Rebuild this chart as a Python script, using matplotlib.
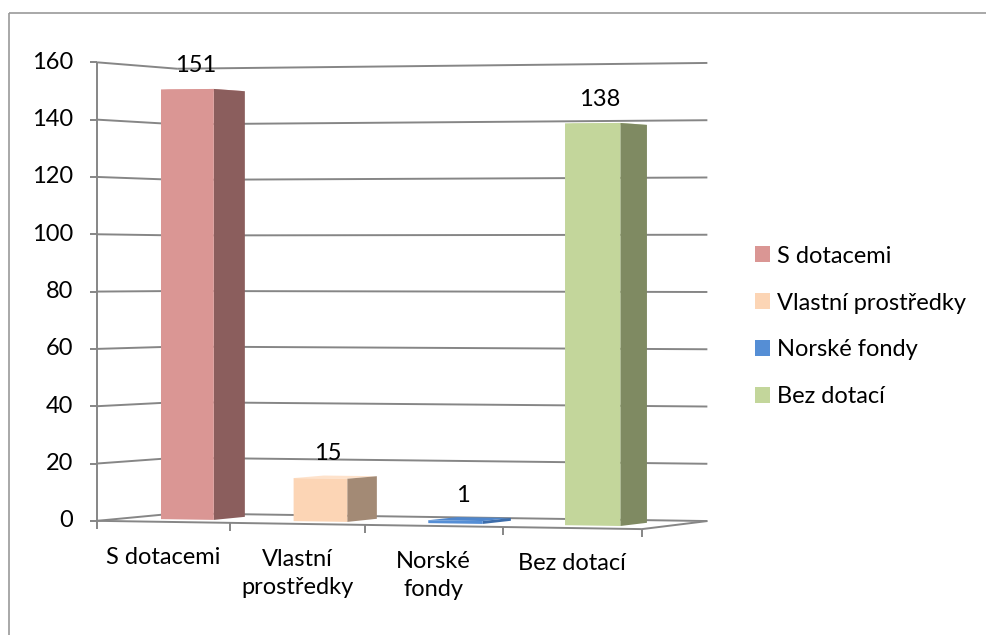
import numpy as np
import matplotlib.pyplot as plt
from matplotlib.patches import Polygon, Patch, Rectangle

plt.rcParams['font.family'] = ['Lato', 'DejaVu Sans']
plt.rcParams['font.size'] = 17

# data
categories = ['S dotacemi', 'Vlastní\nprostředky', 'Norské\nfondy', 'Bez dotací']
series_names = ['S dotacemi', 'Vlastní prostředky', 'Norské fondy', 'Bez dotací']
values = [151, 15, 1, 138]
y_ticks = [0, 20, 40, 60, 80, 100, 120, 140, 160]

front_colors = ['#DA9694', '#FCD5B5', '#558ED5', '#C3D69B']
side_colors = ['#8B5E5D', '#A38A75', '#3D6DAA', '#7F8A62']
top_colors = ['#E6B1AF', '#FEE2CB', '#4F86CC', '#D3E2B4']
grid_color = '#868686'

# 3d box: X = category axis 0..4, Y = value 0..160, Z = depth 0 (front) .. 1 (back)
# screen anchors of the plot box corners, used to fit a simple perspective camera
box_world = [(0, 0, 0), (0, 160, 0), (4, 0, 0), (4, 0, 1), (4, 160, 1),
             (0, 160, 1), (0, 0, 1), (1, 0, 0), (2, 0, 0), (3, 0, 0)]
box_screen = [(97, 521), (97, 62), (642, 529), (707, 521), (708, 63),
              (177, 69), (177, 513), (231, 523), (365, 525), (502, 527)]


def fit_camera(world, screen):
    rows, rhs = [], []
    for (X, Y, Z), (sx, sy) in zip(world, screen):
        rows.append([X, Z, 1, 0, 0, 0, 0, -sx * X, -sx * Z])
        rhs.append(sx)
        rows.append([0, 0, 0, X, Y, Z, 1, -sy * X, -sy * Z])
        rhs.append(sy)
    return np.linalg.lstsq(np.array(rows, float), np.array(rhs, float), rcond=None)[0]


cam = fit_camera(box_world, box_screen)


def proj(X, Y, Z):
    a1, a2, a3, d1, d2, d3, d4, c1, c2 = cam
    w = 1 + c1 * X + c2 * Z
    return (a1 * X + a2 * Z + a3) / w, (d1 * X + d2 * Y + d3 * Z + d4) / w


def line3d(ax, p0, p1, **kw):
    x0, y0 = proj(*p0)
    x1, y1 = proj(*p1)
    ax.plot([x0, x1], [y0, y1], **kw)


fig = plt.figure(figsize=(9.87, 6.35), dpi=100)
ax = fig.add_axes([0, 0, 1, 1])
ax.set_xlim(0, 987)
ax.set_ylim(635, 0)
ax.axis('off')

# outer chart border
ax.add_patch(Rectangle((9, 13), 1000, 700, fill=False, ec='#9a9a9a', lw=1.2))

n = len(values)
gkw = dict(color=grid_color, lw=1.4, solid_capstyle='butt', zorder=1)

# walls: gridlines on back and left wall, y ticks
for v in y_ticks:
    line3d(ax, (0, v, 1), (n, v, 1), **gkw)
    line3d(ax, (0, v, 0), (0, v, 1), **gkw)
    x0, y0 = proj(0, v, 0)
    ax.plot([x0 - 7, x0], [y0, y0], **gkw)
    ax.text(x0 - 24, y0, str(v), ha='right', va='center')

# y axis line, floor edges, x ticks
line3d(ax, (0, 0, 0), (0, y_ticks[-1], 0), **gkw)
line3d(ax, (0, 0, 0), (n, 0, 0), **gkw)
line3d(ax, (n, 0, 0), (n, 0, 1), **gkw)
for i in range(n + 1):
    x0, y0 = proj(i, 0, 0)
    ax.plot([x0, x0], [y0, y0 + 8], **gkw)

# category labels
for i, cat in enumerate(categories):
    x0, y0 = proj(i + 0.5, 0, 0)
    ax.text(x0, y0 + 25, cat, ha='center', va='top', linespacing=1.4)

# bars as boxes
for i, v in enumerate(values):
    x0, x1 = i + 0.3, i + 0.7
    z0, z1 = 0.3, 0.7
    top = [proj(x0, v, z0), proj(x1, v, z0), proj(x1, v, z1), proj(x0, v, z1)]
    side = [proj(x1, 0, z0), proj(x1, 0, z1), proj(x1, v, z1), proj(x1, v, z0)]
    front = [proj(x0, 0, z0), proj(x1, 0, z0), proj(x1, v, z0), proj(x0, v, z0)]
    ax.add_patch(Polygon(top, closed=True, fc=top_colors[i], ec='none', zorder=3))
    ax.add_patch(Polygon(side, closed=True, fc=side_colors[i], ec='none', zorder=4))
    ax.add_patch(Polygon(front, closed=True, fc=front_colors[i], ec='none', zorder=5))
    lx, ly = proj(i + 0.5, v, 0.4)
    ax.text(lx, ly - 24, str(v), ha='center', va='center', zorder=6)

handles = [Patch(facecolor=c, edgecolor='none') for c in front_colors]
ax.legend(handles, series_names, loc='center left', bbox_to_anchor=(755 / 987, 1 - 326.5 / 635),
          frameon=False, borderpad=0, borderaxespad=0, handlelength=0.65, handleheight=0.65,
          handletextpad=0.3, labelspacing=1.1)

fig.savefig('out.png', dpi=100)
